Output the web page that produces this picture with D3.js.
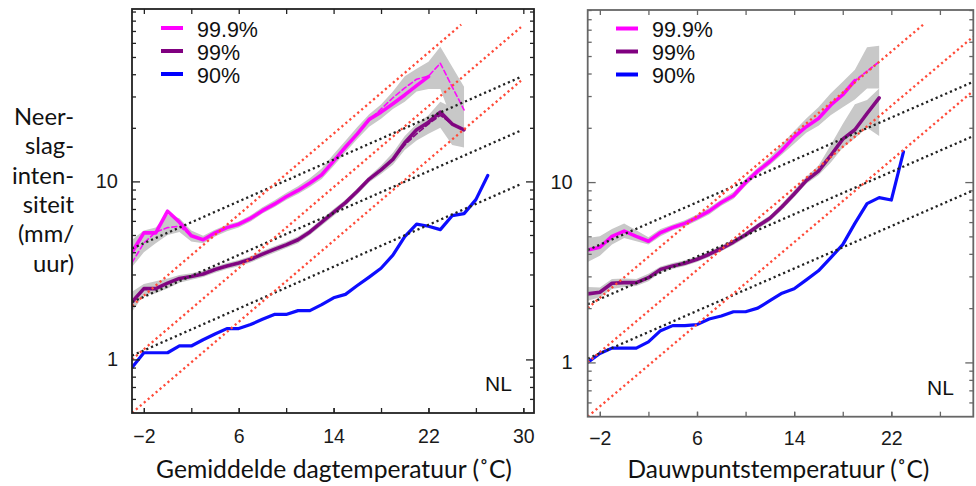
<!DOCTYPE html>
<html>
<head>
<meta charset="utf-8">
<script src="https://cdn.jsdelivr.net/npm/d3@7"></script>
<style>
  html, body { margin: 0; padding: 0; background: #ffffff; }
  svg { display: block; }
</style>
</head>
<body>
<svg id="chart" width="976" height="486"></svg>
<script>
// ===================== DATA =====================
// Temperature bins (°C)
const tempsLeft  = [-3,-2,-1,0,1,2,3,4,5,6,7,8,9,10,11,12,13,14,15,16,17,18,19,20,21,22,23,24,25,26,27];
const tempsRight = [-3,-2,-1,0,1,2,3,4,5,6,7,8,9,10,11,12,13,14,15,16,17,18,19,20,21,22,23];

// Left panel: daily mean temperature — percentiles of hourly precipitation intensity (mm/h)
const leftP999     = [4.0,5.14,5.14,6.8,5.9,4.95,4.7,5.14,5.5,5.75,6.2,6.85,7.45,8.2,8.9,9.8,10.9,13.0,15.6,18.5,22.3,24.5,27.3,30.6,34.5,38.8];
const leftP999Dash = [3.5,4.5,5.2,5.5,5.6,4.95,4.7,5.14,5.5,5.75,6.2,6.85,7.45,8.2,8.9,9.8,10.9,13.0,15.6,18.5,22.0,25.5,29.5,33.5,37.5,39.0,46.1,34.0,25.2];
const leftP999Lo   = [3.3,4.0,4.5,5.0,5.2,4.6,4.5,4.9,5.25,5.5,5.95,6.6,7.15,7.85,8.5,9.3,10.3,12.2,14.6,17.3,20.3,22.5,25.5,28,32,33,33,22,19];
const leftP999Hi   = [4.7,5.3,5.5,6.5,6.2,5.3,4.95,5.35,5.7,5.95,6.45,7.15,7.8,8.6,9.4,10.4,11.8,14.2,16.9,20.2,23.8,27,32,39,43,47,57,44,34];
const leftP99      = [2.1,2.5,2.5,2.68,2.85,2.92,3.02,3.2,3.35,3.48,3.65,3.9,4.15,4.4,4.7,5.2,5.9,6.7,7.6,8.8,10.3,11.6,13.3,16.5,19.5,21.5,24.5,21.0,19.5];
const leftP99Dash  = [2.1,2.5,2.5,2.68,2.85,2.92,3.02,3.2,3.35,3.48,3.65,3.9,4.15,4.4,4.7,5.2,5.9,6.7,7.6,8.8,10.3,11.6,13.3,16.0,18.5,21.0,23.5,21.0,19.5];
const leftP99Lo    = [1.85,2.3,2.35,2.5,2.7,2.8,2.9,3.07,3.22,3.34,3.5,3.74,3.98,4.22,4.5,5.0,5.65,6.4,7.3,8.45,9.9,11.0,12.4,15,17,18.5,20,16,15.5];
const leftP99Hi    = [2.4,2.65,2.75,2.85,2.98,3.05,3.15,3.33,3.48,3.62,3.8,4.06,4.32,4.58,4.9,5.4,6.15,7.0,7.9,9.15,10.7,12.3,14.5,18,21,23.5,28,26,22];
const leftP90      = [0.9,1.09,1.09,1.09,1.19,1.19,1.29,1.39,1.49,1.49,1.57,1.68,1.79,1.79,1.88,1.88,2.03,2.22,2.32,2.6,2.9,3.25,3.85,4.9,5.75,5.6,5.36,6.42,6.59,7.9,10.8];

// Right panel: dew point temperature
const rightP999     = [4.2,4.35,5.0,5.35,5.0,4.7,5.25,5.6,5.9,6.35,6.9,7.7,8.4,9.95,11.5,13.0,15.0,17.8,20.3,22.5,26.7,30.5,36.5,null,null];
const rightP999Dash = [4.2,4.35,5.0,5.35,5.0,4.7,5.25,5.6,5.9,6.35,6.9,7.7,8.4,9.95,11.5,13.0,15.0,17.8,20.3,22.5,26.7,30.5,36.5,41.2,46.5];
const rightP999Lo   = [3.6,3.9,4.5,4.9,4.7,4.5,5.0,5.4,5.68,6.1,6.62,7.4,8.05,9.5,11.0,12.45,14.2,16.3,18.8,20.5,23.5,26,28.7,33,33];
const rightP999Hi   = [4.9,5.0,5.5,5.9,5.4,4.95,5.5,5.82,6.15,6.6,7.2,8.0,8.8,10.4,12.0,13.7,16.2,19.2,22.5,26,31,36,42,56,57];
const rightP99      = [2.4,2.45,2.75,2.77,2.77,2.95,3.28,3.43,3.55,3.73,3.98,4.28,4.65,5.1,5.7,6.3,7.3,8.6,10.2,11.5,14.0,17.3,19.5,24.0,29.3];
const rightP99Lo    = [2.2,2.3,2.55,2.62,2.65,2.82,3.15,3.3,3.42,3.6,3.84,4.13,4.48,4.92,5.5,6.07,7.0,8.25,9.8,10.9,12.8,15.5,17.5,20,18];
const rightP99Hi    = [2.62,2.6,2.9,2.92,2.9,3.1,3.4,3.56,3.68,3.86,4.12,4.43,4.82,5.28,5.9,6.53,7.6,9.0,10.7,12.3,16,21,27,28.5,33];
const rightP90      = [1.0,1.12,1.2,1.2,1.2,1.3,1.5,1.6,1.6,1.62,1.74,1.81,1.91,1.91,2.0,2.2,2.42,2.56,2.87,3.22,3.8,4.5,5.9,7.6,8.2,7.95,14.7];

// Reference scaling lines (value at refT0, growth factor per °C)
const refT0      = -3;
const refBlack   = [4.2, 2.1, 1.05];   // ~7 %/°C (Clausius-Clapeyron)
const refBlackRate = 1.07;
const refRed     = [2.0, 1.0, 0.5];    // ~14 %/°C (2x CC)
const refRedRate = 1.14;
const refVMax    = 76;

// Axis ticks and labels
const xTicksLeft   = [-2,2,6,10,14,18,22,26,30];
const xLabelsLeft  = [-2,6,14,22,30];
const xTicksRight  = [-2,2,6,10,14,18,22,26];
const xLabelsRight = [-2,6,14,22];
const yMajor = [1, 10];
const yMinor = [0.6,0.7,0.8,0.9,2,3,4,5,6,7,8,9,20,30,40,50,60,70,80,90];

const legendLabels = ["99.9%", "99%", "90%"];
const yTitleLines  = ["Neer-", "slag-", "inten-", "siteit", "(mm/", "uur)"];
const xTitleLeft   = "Gemiddelde dagtemperatuur (˚C)";
const xTitleRight  = "Dauwpuntstemperatuur (˚C)";
const regionLabel  = "NL";

// ===================== STYLE / LAYOUT =====================
const COL = { p999: "#ff00ff", p99: "#800080", p90: "#0000ff", band: "#c8c8c8", red: "#ff4a38", black: "#222222" };
const TICKFONT = "'Liberation Sans', Arial, sans-serif";
const TEXTFONT = "Lato, 'Open Sans', sans-serif";

const svg = d3.select("#chart");

function series(temps, vals) {
  return vals.map((v, i) => ({ t: temps[i], v }));
}
function band(temps, lo, hi) {
  return lo.map((l, i) => ({ t: temps[i], lo: l, hi: hi[i] }));
}

function drawPanel(L, D, idx) {
  const x = d3.scaleLinear().domain(L.xDomain).range([L.x0, L.x1]);
  const y = d3.scaleLog().domain(L.yDomain).range([L.y1, L.y0]);

  const g = svg.append("g");
  const clipId = "clip" + idx;
  svg.append("defs").append("clipPath").attr("id", clipId)
    .append("rect").attr("x", L.x0).attr("y", L.y0)
    .attr("width", L.x1 - L.x0).attr("height", L.y1 - L.y0);
  const plot = g.append("g").attr("clip-path", `url(#${clipId})`);

  // uncertainty bands
  const area = d3.area()
    .defined(d => d.lo != null && d.hi != null)
    .x(d => x(d.t)).y0(d => y(d.lo)).y1(d => y(d.hi));
  D.bands.forEach(b => {
    plot.append("path").datum(band(D.temps, b.lo, b.hi))
      .attr("d", area).attr("fill", COL.band).attr("stroke", "none");
  });

  const line = d3.line().defined(d => d.v != null).x(d => x(d.t)).y(d => y(d.v));

  // data lines
  D.lines.forEach(s => {
    plot.append("path").datum(series(D.temps, s.values))
      .attr("d", line).attr("fill", "none")
      .attr("stroke", s.color).attr("stroke-width", s.width)
      .attr("stroke-linejoin", "round").attr("stroke-linecap", "round")
      .attr("stroke-dasharray", s.dash || null)
      .attr("opacity", 0.95);
  });

  // reference scaling lines (straight on log axis)
  function refLine(v0, rate, color) {
    const tEnd = Math.min(L.refTMax, refT0 + Math.log(refVMax / v0) / Math.log(rate));
    const pts = [{ t: refT0, v: v0 }, { t: tEnd, v: v0 * Math.pow(rate, tEnd - refT0) }];
    plot.append("path").datum(pts).attr("d", line)
      .attr("fill", "none").attr("stroke", color).attr("stroke-width", 2.3)
      .attr("stroke-dasharray", "2.2,3");
  }
  refBlack.forEach(v => refLine(v, refBlackRate, COL.black));
  refRed.forEach(v => refLine(v, refRedRate, COL.red));

  // axes (ticks inward on all four sides)
  function styleAxis(sel) {
    sel.select(".domain").remove();
    sel.selectAll(".tick line").attr("stroke", L.frame).attr("stroke-width", 1.3);
  }
  g.append("g").attr("transform", `translate(0,${L.y1})`)
    .call(d3.axisBottom(x).tickValues(L.xTicks).tickSize(-5).tickFormat(""))
    .call(styleAxis);
  g.append("g").attr("transform", `translate(0,${L.y0})`)
    .call(d3.axisTop(x).tickValues(L.xTicks).tickSize(-5).tickFormat(""))
    .call(styleAxis);
  g.append("g").attr("transform", `translate(${L.x0},0)`)
    .call(d3.axisLeft(y).tickValues(yMinor).tickSize(-4).tickFormat(""))
    .call(styleAxis);
  g.append("g").attr("transform", `translate(${L.x1},0)`)
    .call(d3.axisRight(y).tickValues(yMinor).tickSize(-4).tickFormat(""))
    .call(styleAxis);
  g.append("g").attr("transform", `translate(${L.x1},0)`)
    .call(d3.axisRight(y).tickValues(yMajor).tickSize(-8).tickFormat(""))
    .call(styleAxis);

  // labelled axes
  const xl = g.append("g").attr("transform", `translate(0,${L.y1})`)
    .call(d3.axisBottom(x).tickValues(L.xLabels).tickSize(-5).tickPadding(L.xLabelPad).tickFormat(d3.format("d")))
    .call(styleAxis);
  xl.selectAll("text").attr("font-family", TICKFONT).attr("font-size", 19.5).attr("fill", "#1a1a1a");
  const yl = g.append("g").attr("transform", `translate(${L.x0},0)`)
    .call(d3.axisLeft(y).tickValues(yMajor).tickSize(-8).tickPadding(L.yLabelPad).tickFormat(d3.format("d")))
    .call(styleAxis);
  yl.selectAll("text").attr("font-family", TICKFONT).attr("font-size", 20).attr("fill", "#1a1a1a");

  // frame
  g.append("rect").attr("x", L.x0).attr("y", L.y0)
    .attr("width", L.x1 - L.x0).attr("height", L.y1 - L.y0)
    .attr("fill", "none").attr("stroke", L.frame).attr("stroke-width", L.frameW);

  // legend
  const lg = g.append("g");
  D.legend.forEach((it, i) => {
    const ly = L.legendY + i * 23;
    lg.append("line").attr("x1", L.legendX).attr("x2", L.legendX + 22)
      .attr("y1", ly).attr("y2", ly)
      .attr("stroke", it.color).attr("stroke-width", 4);
    lg.append("text").attr("x", L.legendX + 36).attr("y", ly + 1)
      .attr("dy", "0.35em").attr("font-family", TICKFONT).attr("font-size", 21.5)
      .attr("fill", "#111").text(it.label);
  });

  // region label
  g.append("text").attr("x", L.nlX).attr("y", L.nlY)
    .attr("font-family", TICKFONT).attr("font-size", 21).attr("fill", "#111")
    .text(regionLabel);

  // x title (fitted to the reference width)
  const xt = g.append("text").attr("x", L.titleX).attr("y", 478)
    .attr("text-anchor", "middle").attr("font-family", TEXTFONT)
    .attr("font-size", 22).attr("fill", "#111").text(D.title);
  const w = xt.node().getComputedTextLength();
  xt.attr("font-size", 22 * L.titleW / w);
}

const layoutLeft = {
  x0: 132, x1: 534, y0: 9, y1: 413, xDomain: [-3, 30.9], yDomain: [0.5, 93],
  refTMax: 29.8, frame: "#222", frameW: 1.8,
  xTicks: xTicksLeft, xLabels: xLabelsLeft, xLabelPad: 16, yLabelPad: 14,
  legendX: 161, legendY: 28, nlX: 485, nlY: 390.5, titleX: 334, titleW: 356
};
const layoutRight = {
  x0: 587.7, x1: 973.3, y0: 10, y1: 416.7, xDomain: [-3, 28.75], yDomain: [0.5, 90],
  refTMax: 28.75, frame: "#666", frameW: 1.8,
  xTicks: xTicksRight, xLabels: xLabelsRight, xLabelPad: 14, yLabelPad: 15,
  legendX: 616, legendY: 28.5, nlX: 927, nlY: 395, titleX: 778.5, titleW: 302
};

const legendItems = [
  { label: legendLabels[0], color: COL.p999 },
  { label: legendLabels[1], color: COL.p99 },
  { label: legendLabels[2], color: COL.p90 }
];

drawPanel(layoutLeft, {
  temps: tempsLeft,
  bands: [{ lo: leftP999Lo, hi: leftP999Hi }, { lo: leftP99Lo, hi: leftP99Hi }],
  lines: [
    { values: leftP90, color: COL.p90, width: 3.2 },
    { values: leftP99, color: COL.p99, width: 3.6 },
    { values: leftP99Dash, color: COL.p99, width: 1.6, dash: "5,3" },
    { values: leftP999, color: COL.p999, width: 3.6 },
    { values: leftP999Dash, color: COL.p999, width: 1.6, dash: "5,3" }
  ],
  legend: legendItems,
  title: xTitleLeft
}, 0);

drawPanel(layoutRight, {
  temps: tempsRight,
  bands: [{ lo: rightP999Lo, hi: rightP999Hi }, { lo: rightP99Lo, hi: rightP99Hi }],
  lines: [
    { values: rightP90, color: COL.p90, width: 3.2 },
    { values: rightP99, color: COL.p99, width: 3.6 },
    { values: rightP999, color: COL.p999, width: 3.6 },
    { values: rightP999Dash, color: COL.p999, width: 1.8, dash: "4,2.5" }
  ],
  legend: legendItems,
  title: xTitleRight
}, 1);

// shared y-axis title (stacked, right-aligned)
const yTitle = svg.append("g");
const yT = yTitle.selectAll("text").data(yTitleLines).join("text")
  .attr("x", 74).attr("y", (d, i) => 125 + i * 29.3)
  .attr("text-anchor", "end").attr("font-family", TEXTFONT)
  .attr("font-size", 24).attr("fill", "#111").text(d => d);
const wNeer = yT.filter((d, i) => i === 0).node().getComputedTextLength();
yT.attr("font-size", 24 * 60 / wNeer);
</script>
</body>
</html>
